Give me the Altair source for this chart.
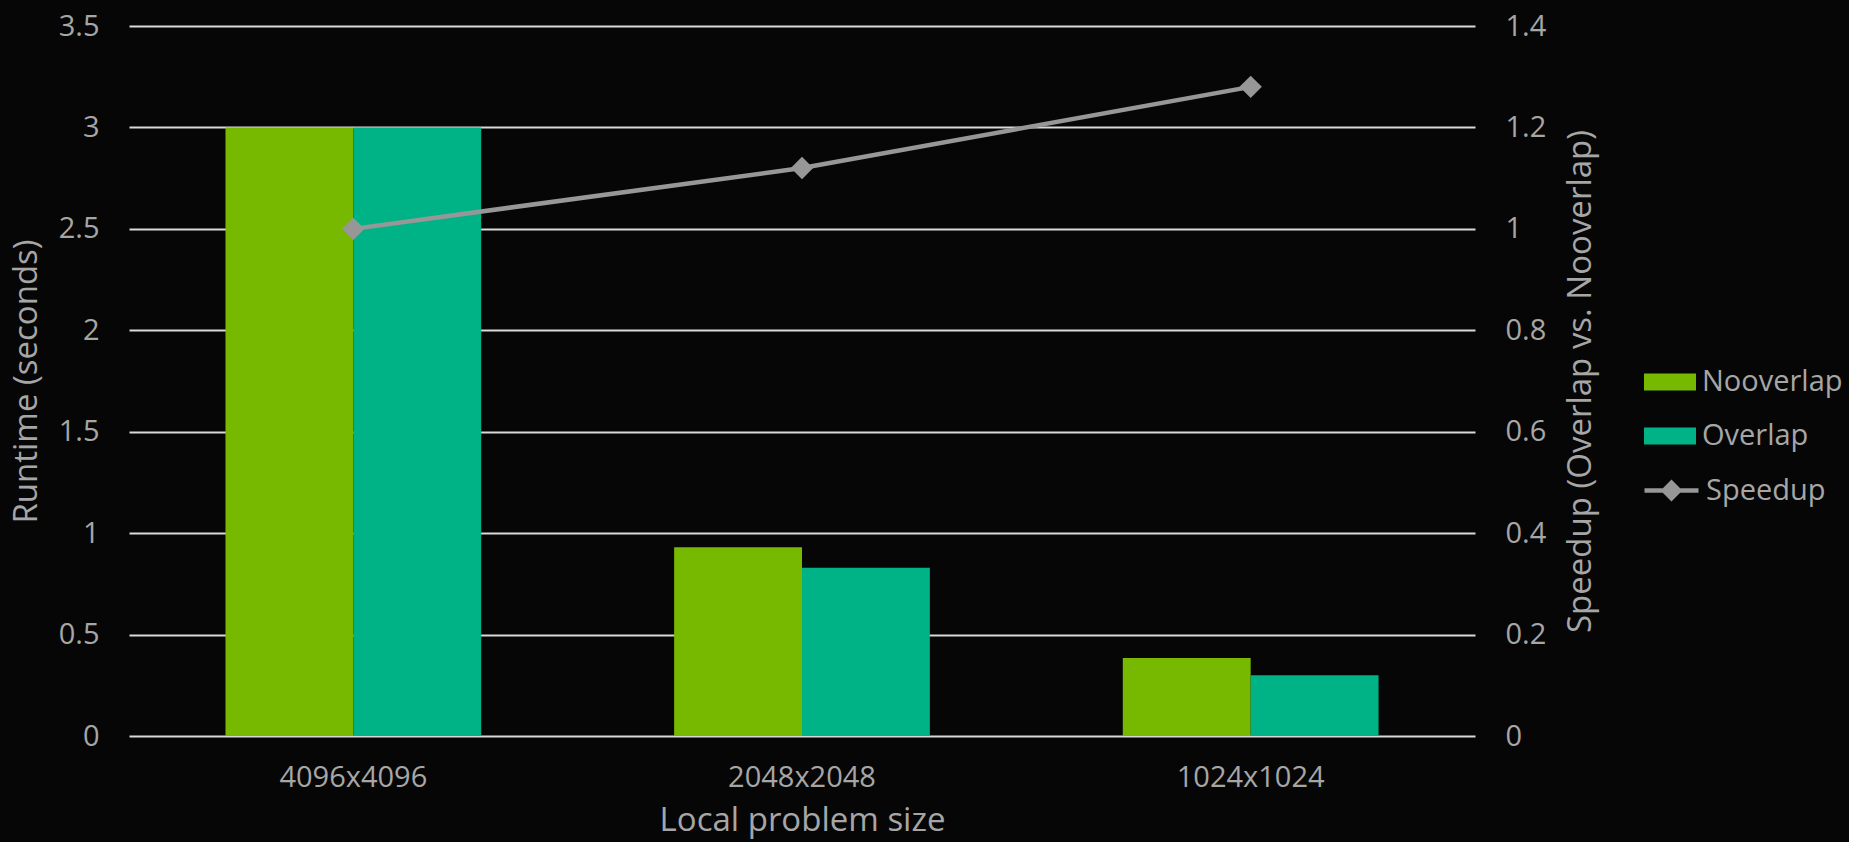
import altair as alt
import pandas as pd

# Runtime per local problem size, with and without communication overlap
sizes = ["4096x4096", "2048x2048", "1024x1024"]
series_names = ["Nooverlap", "Overlap"]
nooverlap = [3.0, 0.93, 0.385]
overlap = [3.0, 0.83, 0.30]
speedup = [1.0, 1.12, 1.28]

runtime_ticks = [0, 0.5, 1, 1.5, 2, 2.5, 3, 3.5]
speedup_ticks = [0, 0.2, 0.4, 0.6, 0.8, 1, 1.2, 1.4]

bar_colors = ["#76b900", "#00b386"]
line_color = "#979797"
text_color = "#a6a6a6"
grid_color = "#d9d9d9"
font = "Open Sans"
fs = 29
title_fs = 33

bar_df = pd.DataFrame(
    {
        "size": sizes * 2,
        "series": [series_names[0]] * 3 + [series_names[1]] * 3,
        "runtime": nooverlap + overlap,
    }
)
speed_df = pd.DataFrame({"size": sizes, "series": ["Speedup"] * 3, "speedup": speedup})

W, H = 1346, 710

x_enc = alt.X(
    "size:N",
    sort=sizes,
    scale=alt.Scale(paddingInner=0.43, paddingOuter=0.215),
    axis=alt.Axis(
        title="Local problem size",
        labelAngle=0,
        labelPadding=27,
        ticks=False,
        tickSize=0,
        domain=False,
        titleX=W / 2,
        titleY=94,
        titleBaseline="alphabetic",
        titleAlign="center",
    ),
)

bars = alt.Chart(bar_df).mark_bar().encode(
    x=x_enc,
    xOffset=alt.XOffset("series:N", sort=series_names),
    y=alt.Y(
        "runtime:Q",
        scale=alt.Scale(domain=[0, 3.5], nice=False, zero=True),
        axis=alt.Axis(
            title="Runtime (seconds)",
            values=runtime_ticks,
            format="~g",
            grid=True,
            gridColor=grid_color,
            gridWidth=2,
            gridOpacity=1,
            ticks=False,
            tickSize=0,
            domain=False,
            labelPadding=30,
            titleAngle=270,
            titleX=-103,
            titleY=H / 2,
            titleBaseline="middle",
            titleAlign="center",
        ),
    ),
    fill=alt.Fill(
        "series:N",
        scale=alt.Scale(domain=series_names, range=bar_colors),
        legend=alt.Legend(
            title=None,
            orient="none",
            legendX=1515,
            legendY=330,
            symbolType="M-1,-0.33H1V0.33H-1Z",
            symbolSize=2704,
            symbolStrokeWidth=0,
            labelOffset=6,
            rowPadding=13,
            padding=0,
        ),
    ),
)

speed_y = alt.Y(
    "speedup:Q",
    scale=alt.Scale(domain=[0, 1.4], nice=False, zero=True),
    axis=alt.Axis(
        title="Speedup (Overlap vs. Nooverlap)",
        orient="right",
        values=speedup_ticks,
        format="~g",
        grid=False,
        ticks=False,
        tickSize=0,
        domain=False,
        labelPadding=30,
        titleAngle=270,
        titleX=105,
        titleY=H / 2,
        titleBaseline="middle",
        titleAlign="center",
    ),
)

line = alt.Chart(speed_df).mark_line(strokeWidth=4.5).encode(
    x=alt.X("size:N", sort=sizes),
    y=speed_y,
    stroke=alt.Stroke(
        "series:N",
        scale=alt.Scale(domain=["Speedup"], range=[line_color]),
        legend=alt.Legend(
            title=None,
            orient="none",
            legendX=1513,
            legendY=435,
            symbolType="M-1,0H-0.29L0,-0.29L0.29,0H1M0.29,0L0,0.29L-0.29,0Z",
            symbolSize=2916,
            symbolStrokeWidth=4.5,
            symbolFillColor=line_color,
            labelOffset=5,
            rowPadding=0,
            padding=0,
        ),
    ),
)

points = alt.Chart(speed_df).mark_point(
    shape="diamond", filled=True, size=500, color=line_color, opacity=1
).encode(
    x=alt.X("size:N", sort=sizes),
    y=speed_y,
)

speed = alt.layer(line, points)

chart = (
    alt.layer(bars, speed)
    .resolve_scale(y="independent")
    .properties(
        width=W,
        height=H,
        background="#060606",
        padding={"left": 129, "top": 26, "right": 374, "bottom": 106},
        autosize=alt.AutoSizeParams(type="none"),
    )
    .configure_view(stroke=None)
    .configure_axis(
        labelFont=font,
        labelFontSize=fs,
        labelColor=text_color,
        titleFont=font,
        titleFontSize=title_fs,
        titleColor=text_color,
        titleFontWeight="normal",
    )
    .configure_legend(
        labelFont=font,
        labelFontSize=fs,
        labelColor=text_color,
        labelLimit=0,
    )
)

chart.save("out.html", embed_options={"renderer": "svg", "actions": False})
